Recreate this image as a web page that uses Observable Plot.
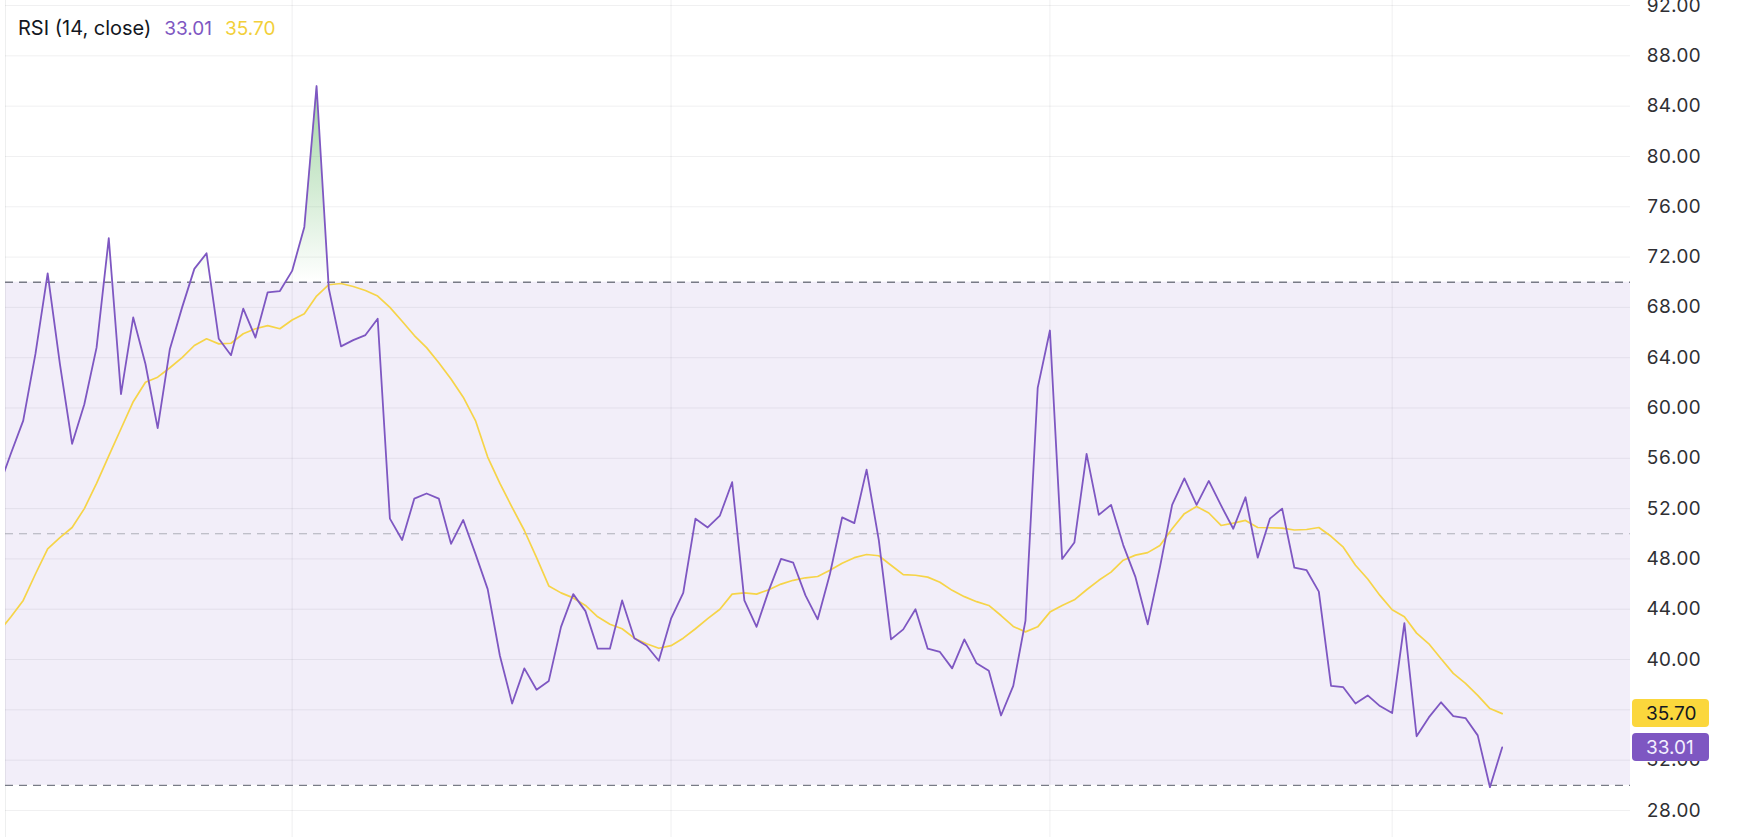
<!DOCTYPE html>
<html><head><meta charset="utf-8">
<script src="https://cdn.jsdelivr.net/npm/d3@7"></script>
<script src="https://cdn.jsdelivr.net/npm/@observablehq/plot@0.6"></script>
<style>
body{margin:0;background:#fff;}
#wrap{position:relative;width:1746px;height:837px;overflow:hidden;font-family:Inter,"Noto Sans",sans-serif;}
#legend{position:absolute;left:18px;top:18px;font-size:20px;line-height:20px;color:#131722;white-space:nowrap;z-index:2;}
#legend span{margin-left:13px;font-size:19px}
</style></head><body>
<div id="wrap"><div id="legend"></div></div>
<script>
// RSI (14, close), one value per day; first value sits just left of the pane
const firstIndex = -1;
const rsi = [53.7, 56.4, 59.0, 64.3, 70.7, 63.5, 57.15, 60.3, 64.8, 73.5,
 61.1, 67.2, 63.5, 58.4, 64.7, 68.0, 71.06, 72.3, 65.5, 64.2,
 67.9, 65.6, 69.2, 69.3, 70.9, 74.4, 85.6, 69.5, 64.9, 65.4,
 65.8, 67.1, 51.2, 49.5, 52.8, 53.2, 52.8, 49.2, 51.1, 48.4,
 45.6, 40.3, 36.5, 39.3, 37.6, 38.3, 42.6, 45.2, 43.85, 40.86,
 40.86, 44.7, 41.7, 41.1, 39.9, 43.25, 45.3, 51.2, 50.5, 51.45,
 54.1, 44.7, 42.6, 45.5, 48.0, 47.7, 45.1, 43.2, 46.8, 51.3,
 50.85, 55.1, 49.5, 41.6, 42.4, 44.0, 40.86, 40.6, 39.3, 41.6,
 39.7, 39.1, 35.55, 37.9, 43.1, 61.6, 66.16, 48.0, 49.3, 56.35,
 51.5, 52.3, 49.1, 46.55, 42.8, 47.35, 52.3, 54.4, 52.3, 54.2,
 52.25, 50.4, 52.9, 48.1, 51.2, 52.0, 47.3, 47.1, 45.4, 37.9,
 37.8, 36.5, 37.15, 36.3, 35.75, 42.9, 33.9, 35.4, 36.6, 35.5,
 35.35, 33.97, 29.85, 33.01];
// RSI-based moving average (yellow)
const rsiMA = [42.2, 43.4, 44.7, 46.8, 48.8, 49.7, 50.5, 52.0, 54.0, 56.2,
 58.35, 60.5, 62.05, 62.45, 63.2, 64.0, 64.97, 65.5, 65.1, 65.15,
 65.9, 66.3, 66.55, 66.3, 67.0, 67.5, 68.9, 69.8, 69.9, 69.66,
 69.34, 68.9, 68.0, 66.9, 65.76, 64.8, 63.6, 62.3, 60.86, 59.0,
 56.1, 54.0, 52.1, 50.26, 48.1, 45.85, 45.3, 44.9, 44.3, 43.4,
 42.8, 42.45, 41.7, 41.25, 40.9, 41.1, 41.7, 42.45, 43.25, 44.0,
 45.2, 45.3, 45.2, 45.55, 46.0, 46.3, 46.5, 46.6, 47.1, 47.66,
 48.1, 48.35, 48.25, 47.5, 46.75, 46.7, 46.55, 46.15, 45.5, 45.0,
 44.6, 44.3, 43.5, 42.63, 42.2, 42.6, 43.77, 44.3, 44.75, 45.55,
 46.3, 46.95, 47.9, 48.3, 48.5, 49.07, 50.4, 51.6, 52.17, 51.65,
 50.66, 50.84, 51.06, 50.5, 50.48, 50.45, 50.3, 50.34, 50.5, 49.8,
 48.93, 47.5, 46.4, 45.1, 43.96, 43.4, 42.1, 41.25, 40.06, 38.9,
 38.1, 37.15, 36.1, 35.7];
const yTicks = [28, 32, 36, 40, 44, 48, 52, 56, 60, 64, 68, 72, 76, 80, 84, 88, 92];
const levelLines = [70, 30];
const midLine = [50];
const band = [{lo: 30, hi: 70}];
const monthStarts = [23, 54, 85, 113];
const overbought = 70;
const legendTitle = "RSI (14, close)";

const purple = "#7e57c2", yellow = "#f6d448", yellowBox = "#fbd73c";
const xDomain = [-0.45, 132.5];
const rows = rsi.map((v, i) => ({i: i + firstIndex, rsi: v, ma: rsiMA[i]}));
const MARK_FILL = "#00ff01";

const chart = Plot.plot({
  width: 1746, height: 837,
  marginLeft: 5, marginRight: 116, marginTop: 0, marginBottom: 0,
  style: {fontFamily: "Inter, 'Noto Sans', sans-serif", fontSize: "19px", color: "#2f2f33", background: "#fff"},
  x: {domain: xDomain, axis: null},
  y: {domain: [25.85, 92.4], axis: "right", ticks: yTicks, tickFormat: d => d.toFixed(2), tickSize: 0, tickPadding: 16, label: null},
  marks: [
    Plot.rect(band, {y1: "lo", y2: "hi", fill: purple, fillOpacity: 0.1}),
    Plot.ruleY(yTicks, {stroke: "#2a2e39", strokeOpacity: 0.07}),
    Plot.ruleX(monthStarts, {stroke: "#2a2e39", strokeOpacity: 0.07}),
    Plot.ruleX([xDomain[0]], {stroke: "#2a2e39", strokeOpacity: 0.08}),
    Plot.areaY(rows, {x: "i", y1: () => overbought, y2: "rsi", fill: MARK_FILL, clip: true}),
    Plot.ruleY(midLine, {stroke: "#787b86", strokeOpacity: 0.55, strokeDasharray: "8,6"}),
    Plot.ruleY(levelLines, {stroke: "#787b86", strokeWidth: 1.3, strokeDasharray: "8,6"}),
    Plot.lineY(rows, {x: "i", y: "ma", stroke: yellow, strokeWidth: 1.7, clip: true}),
    Plot.lineY(rows, {x: "i", y: "rsi", stroke: purple, strokeWidth: 1.8, clip: true})
  ]
});

const ys = chart.scale("y");
const svg = d3.select(chart);
const defs = svg.insert("defs", ":first-child");
const grad = defs.append("linearGradient").attr("id", "obGrad")
  .attr("gradientUnits", "userSpaceOnUse")
  .attr("x1", 0).attr("x2", 0).attr("y1", ys.apply(100)).attr("y2", ys.apply(overbought));
grad.append("stop").attr("offset", 0).attr("stop-color", "#4caf50").attr("stop-opacity", 1);
grad.append("stop").attr("offset", 1).attr("stop-color", "#4caf50").attr("stop-opacity", 0);
svg.selectAll(`[fill="${MARK_FILL}"]`).attr("fill", "url(#obGrad)");

// last-value labels on the price scale
const lastRsi = rsi[rsi.length - 1], lastMA = rsiMA[rsiMA.length - 1];
const labels = [
  {v: lastMA, bg: yellowBox, fg: "#131722"},
  {v: lastRsi, bg: purple, fg: "#f3efff"}
];
const lg = svg.append("g").attr("font-family", "Inter, 'Noto Sans', sans-serif").attr("font-size", 19).attr("text-anchor", "start");
for (const l of labels) {
  const yc = ys.apply(l.v);
  lg.append("rect").attr("x", 1632).attr("y", yc - 14).attr("width", 77).attr("height", 28).attr("rx", 4).attr("fill", l.bg);
  lg.append("text").attr("x", 1646).attr("y", yc).attr("dy", "0.35em").attr("text-anchor", "start").attr("fill", l.fg).text(l.v.toFixed(2));
}

document.getElementById("wrap").appendChild(chart);
const legend = document.getElementById("legend");
legend.append(legendTitle);
const s1 = document.createElement("span"); s1.style.color = purple; s1.textContent = lastRsi.toFixed(2);
const s2 = document.createElement("span"); s2.style.color = "#f2cf3a"; s2.textContent = lastMA.toFixed(2);
legend.append(s1, s2);
</script>
</body></html>
